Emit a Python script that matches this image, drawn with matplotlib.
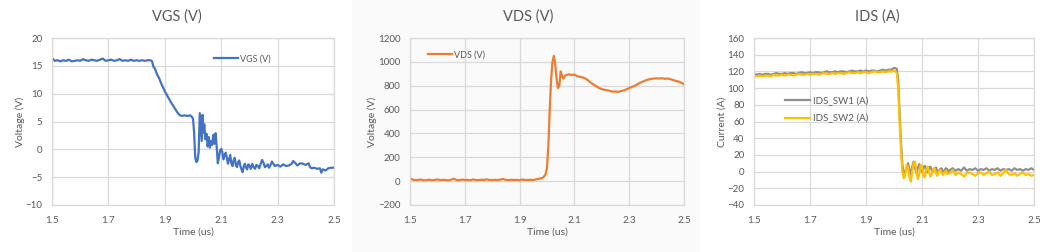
import matplotlib
matplotlib.use('Agg')
import matplotlib.pyplot as plt
from matplotlib.patches import Rectangle

# ---- VGS (V) ----
vgs_t = [1.50, 1.51, 1.52, 1.53, 1.54, 1.55, 1.56, 1.57, 1.58, 1.59, 1.60, 1.61, 1.62, 1.63,
         1.64, 1.65, 1.66, 1.67, 1.68, 1.69, 1.70, 1.71, 1.72, 1.73, 1.74, 1.75, 1.76, 1.77,
         1.78, 1.79, 1.80, 1.81, 1.82, 1.83, 1.84, 1.85,
         1.855, 1.86, 1.865, 1.87, 1.875, 1.88, 1.885, 1.89, 1.895, 1.90, 1.905, 1.91, 1.915,
         1.92, 1.925, 1.93, 1.935, 1.94, 1.945, 1.95, 1.955, 1.96, 1.97, 1.98, 1.99, 1.995,
         2.000, 2.004, 2.008, 2.012, 2.016, 2.020, 2.024, 2.028, 2.031, 2.034, 2.037, 2.040,
         2.044, 2.048, 2.052, 2.056, 2.060, 2.064, 2.068, 2.072, 2.076, 2.080, 2.084, 2.088,
         2.092, 2.096, 2.100, 2.104, 2.108, 2.112, 2.116, 2.120, 2.124, 2.128, 2.132, 2.136,
         2.140, 2.144, 2.148, 2.152, 2.156, 2.160, 2.164, 2.168, 2.172, 2.176, 2.180, 2.184,
         2.188, 2.192, 2.196, 2.200, 2.205, 2.210, 2.215, 2.220, 2.225, 2.230, 2.235, 2.240,
         2.245, 2.250, 2.255, 2.260, 2.265, 2.270, 2.275, 2.280, 2.285, 2.290, 2.300, 2.310,
         2.320, 2.330, 2.340, 2.350, 2.355, 2.360, 2.370, 2.380, 2.390, 2.400, 2.410, 2.415,
         2.420, 2.430, 2.440, 2.450, 2.455, 2.460, 2.470, 2.480, 2.490, 2.500]
vgs_v = [16.4, 15.9, 16.0, 15.8, 16.0, 15.9, 16.1, 15.8, 15.9, 16.0, 15.9, 16.2, 16.0, 15.9,
         16.1, 16.0, 15.9, 16.1, 16.3, 15.9, 16.0, 16.1, 15.9, 16.0, 16.2, 15.9, 16.0, 15.9,
         16.1, 15.9, 16.0, 15.9, 16.0, 15.9, 16.0, 16.0,
         15.8, 14.8, 14.5, 13.8, 13.2, 12.8, 12.1, 11.5, 11.0, 10.4, 10.0, 9.5, 9.1,
         8.6, 8.2, 7.8, 7.4, 7.0, 6.6, 6.3, 6.1, 6.0, 6.1, 6.0, 6.1, 5.9,
         5.5, 3.0, -1.5, -2.3, -2.0, -0.5, 6.5, 3.5, 1.5, 6.2, 3.0, 4.5,
         1.8, 2.8, 0.5, 2.2, 0.3, 1.5, 0.8, 2.6, 1.0, 2.9, 0.5, -2.5,
         -1.5, -0.2, 0.1, -0.5, -1.8, -1.0, -0.6, -1.5, -2.6, -1.8, -1.0, -2.5,
         -3.0, -2.0, -1.5, -2.8, -3.2, -2.3, -2.0, -3.0, -3.6, -4.1, -3.0, -2.6,
         -3.3, -3.6, -2.7, -2.9, -3.5, -2.6, -3.2, -3.5, -2.8, -3.0, -3.4, -2.6,
         -1.9, -2.4, -3.2, -3.0, -2.7, -3.3, -2.8, -2.2, -2.6, -3.0, -2.8, -3.1,
         -2.7, -3.0, -2.9, -2.6, -2.1, -2.3, -2.9, -2.5, -2.6, -2.8, -2.5, -3.2,
         -3.4, -3.3, -3.5, -3.4, -4.2, -3.6, -3.8, -3.4, -3.3, -3.3]

# ---- VDS (V) ----
vds_t = [1.50, 1.51, 1.52, 1.53, 1.54, 1.55, 1.56, 1.57, 1.58, 1.59, 1.60, 1.61, 1.62, 1.63,
         1.64, 1.65, 1.66, 1.67, 1.68, 1.69, 1.70, 1.71, 1.72, 1.73, 1.74, 1.75, 1.76, 1.77,
         1.78, 1.79, 1.80, 1.81, 1.82, 1.83, 1.84, 1.85, 1.86, 1.87, 1.88, 1.89, 1.90, 1.91,
         1.92, 1.93, 1.94, 1.95, 1.96, 1.97,
         1.975, 1.98, 1.985, 1.99, 1.995, 2.00, 2.005, 2.01, 2.015, 2.02, 2.025, 2.03, 2.035,
         2.04, 2.045, 2.05, 2.055, 2.06, 2.065, 2.07, 2.08, 2.09, 2.10, 2.11, 2.12, 2.13,
         2.14, 2.15, 2.16, 2.17, 2.18, 2.19, 2.20, 2.21, 2.22, 2.23, 2.24, 2.25, 2.26, 2.27,
         2.28, 2.29, 2.30, 2.31, 2.32, 2.33, 2.34, 2.35, 2.36, 2.37, 2.38, 2.39, 2.40, 2.41,
         2.42, 2.43, 2.44, 2.45, 2.46, 2.47, 2.48, 2.49, 2.50]
vds_v = [25, 12, 8, 10, 14, 6, 9, 12, 7, 10, 15, 8, 11, 9, 6, 12, 20, 10, 8, 13, 9, 11, 7, 14,
         10, 8, 12, 9, 15, 10, 7, 11, 9, 13, 18, 10, 8, 12, 9, 11, 7, 14, 10, 9, 12, 8, 15, 20,
         22, 25, 30, 40, 60, 110, 300, 600, 850, 1000, 1050, 980, 860,
         780, 800, 920, 880, 860, 880, 890, 895, 890, 893, 880, 875, 870,
         860, 845, 825, 810, 795, 780, 772, 765, 762, 756, 750, 752, 748, 755,
         760, 770, 780, 790, 800, 812, 825, 835, 845, 852, 858, 860, 862, 860,
         863, 858, 860, 855, 848, 840, 835, 825, 812]

# ---- IDS (A) ----
ids_t = [1.50, 1.51, 1.52, 1.53, 1.54, 1.55, 1.56, 1.57, 1.58, 1.59, 1.60, 1.61, 1.62, 1.63,
         1.64, 1.65, 1.66, 1.67, 1.68, 1.69, 1.70, 1.71, 1.72, 1.73, 1.74, 1.75, 1.76, 1.77,
         1.78, 1.79, 1.80, 1.81, 1.82, 1.83, 1.84, 1.85, 1.86, 1.87, 1.88, 1.89, 1.90, 1.91,
         1.92, 1.93, 1.94, 1.95, 1.96, 1.97, 1.98, 1.99,
         1.995, 2.000, 2.005, 2.010, 2.015, 2.020, 2.025, 2.030, 2.035, 2.040, 2.045, 2.050,
         2.055, 2.060, 2.065, 2.070, 2.075, 2.080, 2.085, 2.090, 2.095, 2.100, 2.105, 2.110,
         2.115, 2.120, 2.125, 2.130, 2.135, 2.140, 2.145, 2.150, 2.155, 2.160, 2.165, 2.170,
         2.175, 2.180, 2.185, 2.190, 2.195, 2.200, 2.210, 2.220, 2.230, 2.240, 2.250, 2.260,
         2.270, 2.280, 2.290, 2.300, 2.310, 2.320, 2.330, 2.340, 2.350, 2.360, 2.370, 2.380,
         2.390, 2.400, 2.410, 2.420, 2.430, 2.440, 2.450, 2.460, 2.470, 2.480, 2.490, 2.500]
ids_sw1 = [117, 116, 117, 116, 117, 117, 116, 117, 118, 117, 117, 118, 117, 118,
           118, 117, 118, 119, 118, 118, 119, 118, 119, 119, 118, 119, 120, 119,
           119, 120, 119, 120, 120, 119, 120, 121, 120, 120, 121, 120, 121, 120,
           121, 121, 120, 121, 122, 121, 122, 122,
           123, 124, 124, 123, 110, 70, 35, 8, -2, 0, 4, 10,
           2, -3, 6, 12, 5, -2, 4, 9, 3, -1, 5, 7,
           1, -1, 5, 6, 1, 0, 4, 5, 0, 1, 3, 4,
           0, 1, 4, 3, 0, 2, 4, 1, 3, 1, 5, 1,
           3, 2, 4, 1, 3, 2, 4, 1, 3, 2, 4, 1,
           3, 2, 3, 1, 4, 2, 3, 1, 3, 2, 4, 2]
ids_sw2 = [115, 114, 115, 114, 115, 115, 114, 116, 115, 115, 116, 115, 116, 116,
           115, 116, 117, 116, 116, 117, 116, 117, 117, 116, 117, 118, 117, 117,
           118, 117, 118, 118, 117, 118, 119, 118, 118, 119, 118, 119, 119, 118,
           119, 120, 119, 119, 120, 119, 120, 120,
           120, 121, 120, 118, 100, 60, 25, 0, -8, -5, 8, 5,
           -6, -12, 0, 10, 12, 0, -9, -3, 8, 6, -5, -7,
           2, 6, 0, -6, -3, 3, 4, -2, -5, 0, 2, -2,
           -4, -1, 1, -3, -2, -2, 2, -4, -1, -3, -6, -2,
           -1, -3, -5, -2, -1, -4, -2, 0, -4, -3, -1, -5,
           -2, 2, -3, -4, -2, -5, -3, -1, -4, -3, -5, -4]

TXT = '#595959'
GRID = '#d9d9d9'
W, H = 1052, 252

plt.rcParams['font.family'] = ['Lato', 'DejaVu Sans']

fig = plt.figure(figsize=(W / 100, H / 100), dpi=100)
fig.patch.set_facecolor('white')
# middle chart sits on a faintly grey card
fig.patches.append(Rectangle((352 / W, 0), 348 / W, 1, transform=fig.transFigure,
                             facecolor='#fafafa', edgecolor='none', zorder=-1))


def make_ax(x0, x1, ylim, ystep):
    ax = fig.add_axes([x0 / W, 1 - 205 / H, (x1 - x0) / W, 167 / H])
    ax.set_facecolor('none')
    ax.set_xlim(1.5, 2.5)
    ax.set_ylim(*ylim)
    ax.set_xticks([1.5, 1.7, 1.9, 2.1, 2.3, 2.5])
    ax.set_xticklabels(['1.5', '1.7', '1.9', '2.1', '2.3', '2.5'])
    ax.set_yticks(range(ylim[0], ylim[1] + 1, ystep))
    ax.grid(True, color=GRID, lw=0.9)
    for s in ax.spines.values():
        s.set_color(GRID)
        s.set_linewidth(0.9)
    ax.tick_params(length=0, labelsize=7, labelcolor=TXT)
    ax.tick_params(axis='x', pad=8)
    ax.tick_params(axis='y', pad=7)
    ax.set_axisbelow(True)
    return ax


def labels(tx, ylx, title, ylab, xmid):
    fig.text(tx / W, 1 - 17 / H, title, ha='center', va='center', fontsize=10.5, color=TXT)
    fig.text(xmid / W, 1 - 232 / H, 'Time (us)', ha='center', va='center', fontsize=7.5, color=TXT)
    fig.text(ylx / W, 1 - 122 / H, ylab, ha='center', va='center', rotation=90,
             fontsize=7.5, color=TXT)


# VGS
ax1 = make_ax(52, 334, (-10, 20), 5)
ax1.plot(vgs_t, vgs_v, color='#4472C4', lw=1.6, label='VGS (V)')
ax1.legend(loc='center left', bbox_to_anchor=(0.575, 0.874), frameon=False, fontsize=6.5,
           borderpad=0, borderaxespad=0, handlelength=2.6, handletextpad=0.3,
           labelcolor=TXT)
labels(177, 20, 'VGS (V)', 'Voltage (V)', 193)

# VDS
ax2 = make_ax(410, 684, (-200, 1200), 200)
ax2.plot(vds_t, vds_v, color='#ED7D31', lw=1.6, label='VDS (V)')
ax2.legend(loc='center left', bbox_to_anchor=(0.066, 0.898), frameon=False, fontsize=6.5,
           borderpad=0, borderaxespad=0, handlelength=2.6, handletextpad=0.3,
           labelcolor=TXT)
labels(528, 372, 'VDS (V)', 'Voltage (V)', 547)

# IDS
ax3 = make_ax(754, 1034, (-40, 160), 20)
ax3.plot(ids_t, ids_sw1, color='#8f8f8f', lw=1.6, label='IDS_SW1 (A)')
ax3.plot(ids_t, ids_sw2, color='#FFC000', lw=1.6, label='IDS_SW2 (A)')
ax3.legend(loc='center left', bbox_to_anchor=(0.11, 0.569), frameon=False, fontsize=7,
           borderpad=0, borderaxespad=0, handlelength=2.6, handletextpad=0.3,
           labelspacing=0.85, labelcolor=TXT)
labels(877, 722, 'IDS (A)', 'Current (A)', 894)

fig.savefig('out.png', dpi=100)
